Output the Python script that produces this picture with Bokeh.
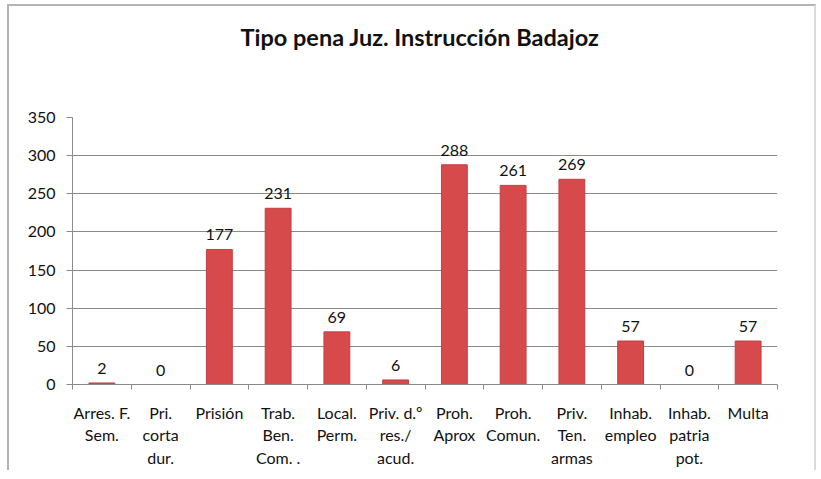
import numpy as np
from bokeh.plotting import figure
from bokeh.models import ColumnDataSource, LabelSet, FixedTicker, Range1d, Title
from bokeh.core.properties import value
from bokeh.embed import file_html
from bokeh.resources import INLINE

categories = ["Arres. F.\nSem.", "Pri.\ncorta\ndur.", "Prisión", "Trab.\nBen.\nCom. .",
              "Local.\nPerm.", "Priv. d.º\nres./\nacud.", "Proh.\nAprox", "Proh.\nComun.",
              "Priv.\nTen.\narmas", "Inhab.\nempleo", "Inhab.\npatria\npot.", "Multa"]
values = [2, 0, 177, 231, 69, 6, 288, 261, 269, 57, 0, 57]
y_ticks = [0, 50, 100, 150, 200, 250, 300, 350]
title_text = "Tipo pena Juz. Instrucción Badajoz"

FONT = "Lato"
n = len(categories)
xpos = [i + 0.5 for i in range(n)]
src = ColumnDataSource(dict(x=xpos, top=values, lab=[str(v) for v in values]))

p = figure(width=805, height=463, frame_width=705, frame_height=267,
           output_backend="svg", toolbar_location=None, title=None,
           x_range=Range1d(0, n), y_range=Range1d(0, 350),
           min_border_left=63, min_border_right=37, min_border_top=111, min_border_bottom=85)
p.outline_line_color = None
p.background_fill_color = "white"
p.border_fill_color = "white"
p.styles = {"margin-left": "7px", "margin-top": "4px",
            "border-left": "2px solid #b4b4b4", "border-top": "2px solid #b4b4b4",
            "border-right": "2px solid #dadada"}

# spacer between frame and title, then the title itself
p.add_layout(Title(text=" ", text_font_size="1px", standoff=64), "above")
p.add_layout(Title(text=title_text, align="left", offset=168, standoff=0,
                   text_font=FONT, text_font_size="23.5px", text_font_style="bold",
                   text_color="#111111"), "above")

p.vbar(x="x", top="top", width=0.44, source=src, fill_color="#d64a4c",
       line_color="#c43f42", line_width=1)

p.add_layout(LabelSet(x="x", y="top", text="lab", source=src, text_align="center",
                      text_baseline="bottom", y_offset=9, text_font=value(FONT),
                      text_font_size=value("16px"), text_color="#111111"))

# y axis
p.yaxis.ticker = FixedTicker(ticks=y_ticks)
p.yaxis.axis_line_color = "#8a8a8a"
p.yaxis.major_tick_line_color = "#8a8a8a"
p.yaxis.major_tick_out = 6
p.yaxis.major_tick_in = 0
p.yaxis.minor_tick_line_color = None
p.yaxis.major_label_standoff = 11
p.yaxis.major_label_text_font = FONT
p.yaxis.major_label_text_font_size = "16px"
p.yaxis.major_label_text_color = "#111111"

# x axis: labels at centres, tick marks at category boundaries
p.xaxis.ticker = FixedTicker(ticks=xpos, minor_ticks=list(range(n + 1)))
p.xaxis.major_label_overrides = {x: c for x, c in zip(xpos, categories)}
p.xaxis.major_tick_line_color = None
p.xaxis.minor_tick_line_color = "#8a8a8a"
p.xaxis.minor_tick_out = 5
p.xaxis.minor_tick_in = 0
p.xaxis.axis_line_color = "#8a8a8a"
p.xaxis.major_label_standoff = 12
p.xaxis.major_label_text_font = FONT
p.xaxis.major_label_text_font_size = "16px"
p.xaxis.major_label_text_color = "#111111"

p.xgrid.grid_line_color = None
p.ygrid.ticker = FixedTicker(ticks=y_ticks)
p.ygrid.grid_line_color = "#8a8a8a"
p.ygrid.grid_line_width = 1

open("out.html", "w").write(file_html(p, INLINE))
